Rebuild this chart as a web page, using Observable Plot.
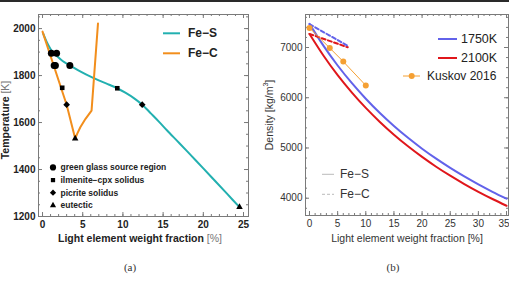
<!DOCTYPE html>
<html>
<head>
<meta charset="utf-8">
<script src="https://cdn.jsdelivr.net/npm/d3@7"></script>
<script src="https://cdn.jsdelivr.net/npm/@observablehq/plot@0.6"></script>
<style>
  body { margin: 0; background: #fff; }
  #fig { position: relative; width: 509px; height: 282px; overflow: hidden;
         font-family: "Liberation Sans", Arial, sans-serif; }
  #fig > svg { position: absolute; }
</style>
</head>
<body>
<div id="fig"></div>
<script>
// ---------- (a) melting curves: light element fraction [%] vs temperature [K] ----------
const feSCurve = [
  [0.1, 1978], [0.6, 1938], [1.2, 1903], [1.8, 1883], [2.5, 1862], [3.4, 1843],
  [4.4, 1823], [5.4, 1805], [6.4, 1789], [7.3, 1775], [8.3, 1761], [9.3, 1746],
  [10.3, 1727], [11.4, 1703], [12.4, 1676], [13.5, 1638], [14.5, 1603], [15.5, 1566],
  [17, 1513], [18.5, 1459], [20, 1405], [21.5, 1350], [23, 1295], [24.5, 1240]
];
const feCCurve = [
  [0, 1987], [3.0, 1676], [4.06, 1532], [4.35, 1555], [4.7, 1580],
  [5.35, 1616], [6.1, 1651], [6.9, 2022]
];
const greenGlass = [[1.1, 1895], [1.75, 1895], [1.45, 1843], [1.6, 1843], [3.4, 1843]];
const ilmeniteCpx = [[2.45, 1748], [9.3, 1746]];
const picrite = [[3.0, 1676], [12.4, 1676]];
const eutectic = [[4.06, 1532], [24.5, 1240]];
const xTicksA = [0, 5, 10, 15, 20, 25];
const yTicksA = [1200, 1400, 1600, 1800, 2000];

// ---------- (b) densities: light element fraction [%] vs density [kg/m^3] ----------
const fracB = [0, 2.5, 5, 7.5, 10, 12.5, 15, 17.5, 20, 22.5, 25, 27.5, 30, 32.5, 35];
const feS1750 = [7470, 7032, 6642, 6294, 5980, 5696, 5438, 5202, 4986, 4787, 4603, 4433, 4275, 4128, 3990];
const feS2100 = [7270, 6836, 6451, 6108, 5798, 5519, 5265, 5034, 4822, 4627, 4448, 4282, 4127, 3984, 3850];
const feC1750 = [[0, 7465], [3.5, 7243], [7.0, 7020]];
const feC2100 = [[0, 7270], [3.4, 7137], [6.8, 7005]];
const kuskovFrac = [0, 3.6, 6.0, 10.0];
const kuskovRho = [7390, 6990, 6720, 6245];
const xTicksB = [0, 5, 10, 15, 20, 25, 30];
const xTickEdgeB = [35];
const yTicksB = [4000, 5000, 6000, 7000];

const teal = "#22b0b0", orange = "#f28e1c", blue = "#6262ea", red = "#e0161b", kusk = "#f5a033";
const frameGray = "#7a7a7a";

// inward ticks on all four sides of the frame, drawn as inset rules
function frameTicks(xs, ys, len, fw, fh) {
  return [
    Plot.ruleX(xs, {x: d => d, insetTop: fh - len, stroke: frameGray}),
    Plot.ruleX(xs, {x: d => d, insetBottom: fh - len, stroke: frameGray}),
    Plot.ruleY(ys, {y: d => d, insetRight: fw - len, stroke: frameGray}),
    Plot.ruleY(ys, {y: d => d, insetLeft: fw - len, stroke: frameGray})
  ];
}

const fig = document.getElementById("fig");

// ---- panel (a)
const mA = {top: 14, right: 7, bottom: 34, left: 38};
const WA = 255, HA = 250;
const fwA = WA - mA.left - mA.right, fhA = HA - mA.top - mA.bottom;
const plotA = Plot.plot({
  width: WA, height: HA,
  marginTop: mA.top, marginRight: mA.right, marginBottom: mA.bottom, marginLeft: mA.left,
  x: {domain: [-0.5, 25.62]},
  y: {domain: [1200, 2060]},
  style: {fontFamily: "Liberation Sans, Arial, sans-serif", background: "transparent"},
  marks: [
    ...frameTicks(d3.range(0, 26, 1), d3.range(1200, 2061, 50), 2, fwA, fhA),
    ...frameTicks(xTicksA, yTicksA, 4, fwA, fhA),
    Plot.frame({stroke: frameGray}),
    Plot.axisX({ticks: xTicksA, tickSize: 0, tickPadding: 4, tickFormat: "d", fontSize: 10,
                fontWeight: "bold", fill: "#222", label: null}),
    Plot.axisY({ticks: yTicksA, tickSize: 0, tickPadding: 3, tickFormat: "d", fontSize: 10,
                fontWeight: "bold", fill: "#222", label: null}),
    Plot.line(feSCurve, {x: d => d[0], y: d => d[1], stroke: teal, strokeWidth: 2, curve: "catmull-rom"}),
    Plot.line(feCCurve, {x: d => d[0], y: d => d[1], stroke: orange, strokeWidth: 2}),
    Plot.dot(greenGlass, {x: d => d[0], y: d => d[1], r: 3.5, fill: "#000", symbol: "circle"}),
    Plot.dot(ilmeniteCpx, {x: d => d[0], y: d => d[1], r: 2.6, fill: "#000", symbol: "square"}),
    Plot.dot(picrite, {x: d => d[0], y: d => d[1], r: 3.0, fill: "#000", stroke: "none", symbol: "diamond2"}),
    Plot.dot(eutectic, {x: d => d[0], y: d => d[1], r: 2.4, fill: "#000", symbol: "triangle"})
  ]
});
plotA.style.left = "0px"; plotA.style.top = "0px";
fig.appendChild(plotA);

// ---- panel (b)
const mB = {top: 14, right: 1, bottom: 35, left: 50};
const WB = 254, HB = 250;
const fwB = WB - mB.left - mB.right, fhB = HB - mB.top - mB.bottom;
const rows1750 = fracB.map((x, i) => ({x, rho: feS1750[i]}));
const rows2100 = fracB.map((x, i) => ({x, rho: feS2100[i]}));
const rowsKuskov = kuskovFrac.map((x, i) => ({x, rho: kuskovRho[i]}));
const axisStyleB = {tickSize: 0, tickPadding: 4, tickFormat: "d", fontSize: 10, fill: "#333", label: null};
const plotB = Plot.plot({
  width: WB, height: HB,
  marginTop: mB.top, marginRight: mB.right, marginBottom: mB.bottom, marginLeft: mB.left,
  x: {domain: [-0.71, 35.35]},
  y: {domain: [3656, 7657]},
  style: {fontFamily: "Liberation Sans, Arial, sans-serif", background: "transparent"},
  marks: [
    ...frameTicks(d3.range(0, 36, 1), d3.range(3800, 7657, 200), 2, fwB, fhB),
    ...frameTicks([...xTicksB, ...xTickEdgeB], yTicksB, 4, fwB, fhB),
    Plot.frame({stroke: frameGray}),
    Plot.axisX({ticks: xTicksB, ...axisStyleB}),
    // the last label sits against the page edge, nudged inward a little
    Plot.axisX({ticks: xTickEdgeB, ...axisStyleB, dx: -2.5}),
    Plot.axisY({ticks: yTicksB, ...axisStyleB, tickPadding: 3}),
    Plot.line(rows2100, {x: "x", y: "rho", stroke: red, strokeWidth: 2, curve: "natural"}),
    Plot.line(rows1750, {x: "x", y: "rho", stroke: blue, strokeWidth: 2, curve: "natural"}),
    Plot.line(feC2100, {x: d => d[0], y: d => d[1], stroke: red, strokeWidth: 2, strokeDasharray: "4,2.5"}),
    Plot.line(feC1750, {x: d => d[0], y: d => d[1], stroke: blue, strokeWidth: 2, strokeDasharray: "4,2.5"}),
    Plot.line(rowsKuskov, {x: "x", y: "rho", stroke: kusk, strokeWidth: 1}),
    Plot.dot(rowsKuskov, {x: "x", y: "rho", r: 3, fill: kusk})
  ]
});
plotB.style.left = "255px"; plotB.style.top = "0px";
fig.appendChild(plotB);

// ---- titles, legends and captions
const ov = d3.select(fig).append("svg")
  .attr("width", 509).attr("height", 282)
  .style("left", "0px").style("top", "0px")
  .style("font-family", "Liberation Sans, Arial, sans-serif");

ov.append("rect").attr("x", 0).attr("y", 0).attr("width", 509).attr("height", 2).attr("fill", "#2a2a2a");

function swatch(x1, x2, y, color, dash, width = 2) {
  ov.append("line").attr("x1", x1).attr("x2", x2).attr("y1", y).attr("y2", y)
    .attr("stroke", color).attr("stroke-width", width).attr("stroke-dasharray", dash || null);
}
function label(x, y, text, opts = {}) {
  return ov.append("text").attr("x", x).attr("y", y).attr("dominant-baseline", "central")
    .attr("text-anchor", opts.anchor || "start")
    .attr("font-size", opts.size || 12).attr("font-weight", opts.weight || "normal")
    .attr("fill", opts.fill || "#222").text(text);
}

// panel (a) legends
swatch(163, 180, 33.3, teal);
label(188, 33.3, "Fe\u2212S", {weight: "bold"});
swatch(163, 180, 53.3, orange);
label(188, 53.3, "Fe\u2212C", {weight: "bold"});

const symRows = [
  {sym: d3.symbolCircle, r: 3.1, text: "green glass source region", y: 167.4},
  {sym: d3.symbolSquare, r: 2.4, text: "ilmenite\u2212cpx solidus", y: 180.1},
  {sym: d3.symbolDiamond2, r: 2.8, text: "picrite solidus", y: 192.7},
  {sym: d3.symbolTriangle, r: 2.3, text: "eutectic", y: 205.4}
];
for (const s of symRows) {
  ov.append("path").attr("transform", `translate(53,${s.y})`)
    .attr("d", d3.symbol(s.sym, Math.PI * s.r * s.r)()).attr("fill", "#000");
  label(60.5, s.y, s.text, {size: 8.5, weight: "bold"});
}

// panel (b) legends
swatch(438, 457, 39, blue);
label(461, 39, "1750K", {size: 12.5});
swatch(438, 457, 58, red);
label(461, 58, "2100K", {size: 12.5});
swatch(403, 420, 76, kusk, null, 1);
ov.append("circle").attr("cx", 411.7).attr("cy", 76).attr("r", 3).attr("fill", kusk);
label(427, 76, "Kuskov 2016", {size: 12});
swatch(322, 334, 174.3, "#bbbbbb", null, 1);
label(340, 174.3, "Fe\u2212S", {size: 12, fill: "#333"});
swatch(322, 334, 194.3, "#bbbbbb", "3,2", 1);
label(340, 194.3, "Fe\u2212C", {size: 12, fill: "#333"});

// axis titles
const xa = label(140, 238, "", {anchor: "middle", size: 10.5});
xa.append("tspan").attr("font-weight", "bold").attr("fill", "#222").text("Light element weight fraction ");
xa.append("tspan").attr("fill", "#777").text("[%]");

label(407, 238, "Light element weight fraction [%]", {anchor: "middle", size: 10.5, fill: "#333"});

const ya = ov.append("text").attr("transform", "translate(4.5,120) rotate(-90)")
  .attr("text-anchor", "middle").attr("dominant-baseline", "central").attr("font-size", 10.5);
ya.append("tspan").attr("font-weight", "bold").attr("fill", "#222").text("Temperature ");
ya.append("tspan").attr("fill", "#777").text("[K]");

const yb = ov.append("text").attr("transform", "translate(269,115) rotate(-90)")
  .attr("text-anchor", "middle").attr("dominant-baseline", "central")
  .attr("font-size", 10.5).attr("fill", "#333");
yb.append("tspan").text("Density [kg/m");
yb.append("tspan").attr("font-size", 7).attr("dy", -4).text("3");
yb.append("tspan").attr("dy", 4).text("]");

// captions
const capFont = "Liberation Serif, DejaVu Serif, serif";
label(130, 267, "(a)", {anchor: "middle", size: 11, fill: "#333"}).attr("font-family", capFont);
label(393, 267, "(b)", {anchor: "middle", size: 11, fill: "#333"}).attr("font-family", capFont);
</script>
</body>
</html>
